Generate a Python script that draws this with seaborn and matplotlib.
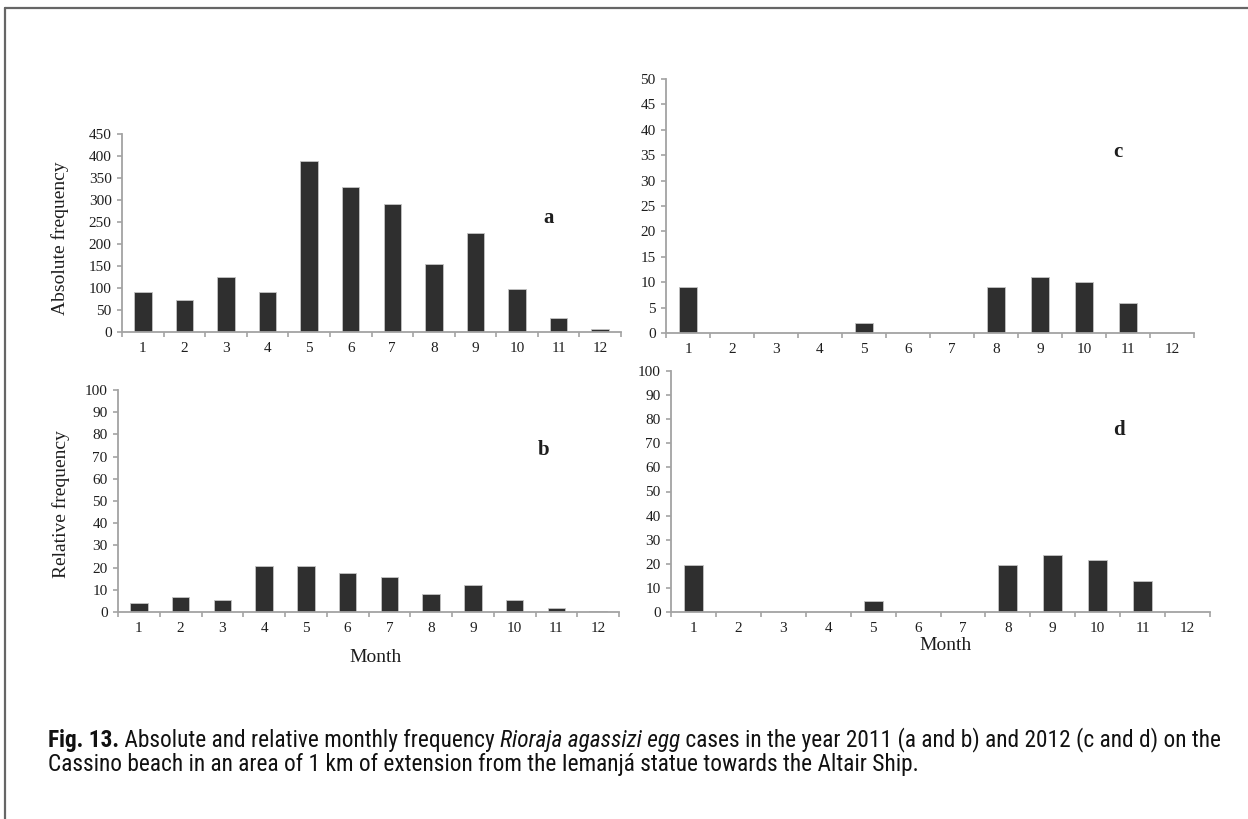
import matplotlib
matplotlib.use("Agg")
import matplotlib.pyplot as plt
import seaborn as sns
import pandas as pd
from matplotlib import font_manager
from matplotlib.ticker import FixedLocator, NullFormatter

# ---------------- data ----------------
months = ["1", "2", "3", "4", "5", "6", "7", "8", "9", "10", "11", "12"]
abs_2011 = [92, 73, 126, 92, 389, 330, 290, 155, 225, 98, 31, 6]
rel_2011 = [3.9, 6.9, 5.3, 20.6, 20.6, 17.6, 15.8, 8.3, 12.3, 5.4, 2.0, 0.4]
abs_2012 = [9, 0, 0, 0, 2, 0, 0, 9, 11, 10, 6, 0]
rel_2012 = [19.3, 0, 0, 0, 4.4, 0, 0, 19.3, 23.5, 21.5, 13.0, 0]

panel_letters = ["a", "b", "c", "d"]
y_ticks_abs11 = list(range(0, 451, 50))
y_ticks_abs12 = list(range(0, 51, 5))
y_ticks_rel = list(range(0, 101, 10))

caption_bold = "Fig. 13."
caption_line1a = " Absolute and relative monthly frequency "
caption_italic = "Rioraja agassizi egg"
caption_line1b = " cases in the year 2011 (a and b) and 2012 (c and d) on the"
caption_line2 = "Cassino beach in an area of 1 km of extension from the Iemanjá statue towards the Altair Ship."

# ---------------- style ----------------
sns.set_theme(style="white")
serif = ["Liberation Serif", "DejaVu Serif"]
plt.rcParams["font.family"] = serif

W, H = 1248, 819
fig = plt.figure(figsize=(W / 100, H / 100), dpi=100)
fig.patch.set_facecolor("white")

BAR = "#2f2f2f"
AX = "#a3a3a3"
TXT = "#1e1e1e"


def rect(left, right, top, bottom):
    return [left / W, 1 - bottom / H, (right - left) / W, (bottom - top) / H]


def panel(box, values, yticks, letter, letter_xy):
    ax = fig.add_axes(rect(*box))
    df = pd.DataFrame({"month": months, "value": values})
    sns.barplot(data=df, x="month", y="value", color=BAR, width=0.42,
                edgecolor="#c4c4c4", linewidth=0.6, saturation=1, ax=ax)
    for p in ax.patches:
        p.set_facecolor(BAR)
    ax.set_xlim(-0.5, len(months) - 0.5)
    ax.set_ylim(yticks[0], yticks[-1])
    ax.set_yticks(yticks)
    ax.set_yticklabels([str(t) for t in yticks])
    ax.set_xlabel("")
    ax.set_ylabel("")
    for s in ["top", "right"]:
        ax.spines[s].set_visible(False)
    for s in ["left", "bottom"]:
        ax.spines[s].set_color(AX)
        ax.spines[s].set_linewidth(1.3)
    ax.xaxis.set_minor_locator(FixedLocator([i - 0.5 for i in range(len(months) + 1)]))
    ax.xaxis.set_minor_formatter(NullFormatter())
    ax.tick_params(axis="x", which="major", length=0, pad=7, labelsize=11, labelcolor=TXT)
    ax.tick_params(axis="x", which="minor", length=3.5, width=1.2, color=AX, direction="out", bottom=True)
    ax.tick_params(axis="y", which="major", length=3.5, width=1.2, color=AX, direction="out",
                   left=True, pad=4, labelsize=11, labelcolor=TXT)
    ax.text(letter_xy[0], letter_xy[1], letter, fontsize=15, fontweight="bold",
            color=TXT, ha="center", va="center")
    ax.set_facecolor("none")
    return ax


panel((122, 621, 134, 332), abs_2011, y_ticks_abs11, panel_letters[0], (9.76, 258))
panel((118, 619, 390, 612), rel_2011, y_ticks_rel, panel_letters[1], (9.7, 73))
panel((666, 1194, 79, 333), abs_2012, y_ticks_abs12, panel_letters[2], (9.77, 35.6))
panel((671, 1210, 371, 612), rel_2012, y_ticks_rel, panel_letters[3], (9.47, 75.5))

# axis titles
fig.text(60 / W, 1 - 238 / H, "Absolute frequency", rotation=90, ha="center", va="center",
         fontsize=14, color=TXT)
fig.text(61 / W, 1 - 504 / H, "Relative frequency", rotation=90, ha="center", va="center",
         fontsize=14, color=TXT)
fig.text(376 / W, 1 - 658 / H, "Month", ha="center", va="center", fontsize=14, color=TXT)
fig.text(946 / W, 1 - 645 / H, "Month", ha="center", va="center", fontsize=14, color=TXT)

# partial frame (top and left)
fig.add_artist(plt.Line2D([5 / W, 5 / W], [0, 1 - 8 / H], color="#666666", lw=1.6,
                          transform=fig.transFigure))
fig.add_artist(plt.Line2D([5 / W, 1], [1 - 8 / H, 1 - 8 / H], color="#666666", lw=1.6,
                          transform=fig.transFigure))

# caption
names = {f.name for f in font_manager.fontManager.ttflist}
cap_family = ["Liberation Sans", "DejaVu Sans"]
for cand in ["Liberation Sans Narrow", "Roboto Condensed", "Open Sans Condensed", "Arial Narrow"]:
    if cand in names:
        cap_family = [cand, "DejaVu Sans"]
        break

fig.canvas.draw()
renderer = fig.canvas.get_renderer()


def draw_caption(fs):
    arts = []
    x0 = 48
    y1 = H - 740
    y2 = H - 765
    x = x0
    for txt, kw in [(caption_bold, dict(fontweight="bold")), (caption_line1a, {}),
                    (caption_italic, dict(fontstyle="italic")), (caption_line1b, {})]:
        t = fig.text(x / W, y1 / H, txt, fontsize=fs, family=cap_family, color="#111111",
                     ha="left", va="center", **kw)
        bb = t.get_window_extent(renderer)
        x = bb.x1
        arts.append(t)
    t2 = fig.text(x0 / W, y2 / H, caption_line2, fontsize=fs, family=cap_family, color="#111111",
                  ha="left", va="center")
    arts.append(t2)
    return arts, x


fs = 13.0
arts, xend = draw_caption(fs)
scale = (1220 - 48) / (xend - 48)
for a in arts:
    a.remove()
draw_caption(fs * scale)

fig.savefig("out.png", dpi=100, facecolor="white")
